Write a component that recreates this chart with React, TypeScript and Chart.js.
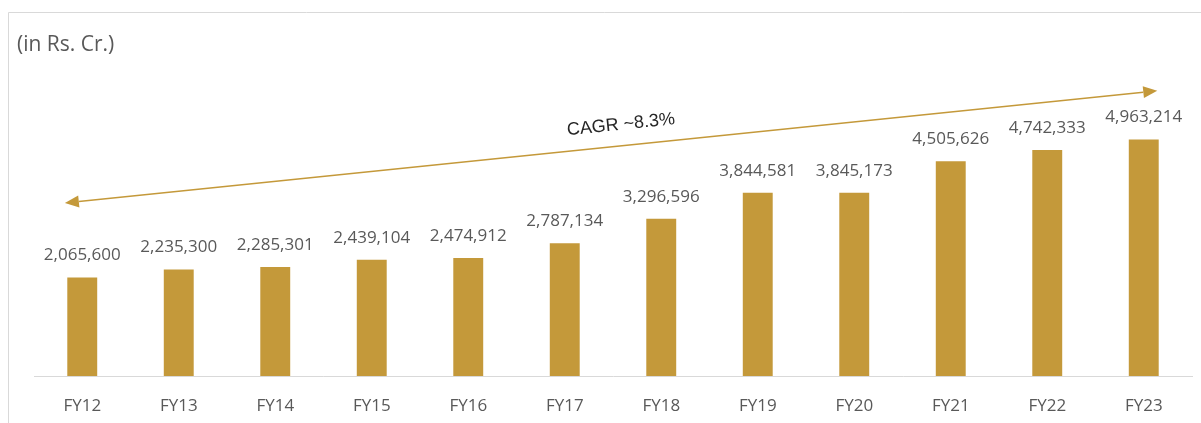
import React, { useEffect, useRef } from "react";
import { Chart, registerables } from "chart.js";

Chart.register(...registerables);

const categories = ["FY12", "FY13", "FY14", "FY15", "FY16", "FY17", "FY18", "FY19", "FY20", "FY21", "FY22", "FY23"];
const values = [2065600, 2235300, 2285301, 2439104, 2474912, 2787134, 3296596, 3844581, 3845173, 4505626, 4742333, 4963214];
const unitLabel = "(in Rs. Cr.)";
const cagrLabel = "CAGR ~8.3%";
// arrow endpoints in data space: [category index, value]
const cagrStart = [-0.18, 3630000];
const cagrEnd = [11.14, 5985000];

const GOLD = "#C4993A";
const TEXT = "#595959";
const LABEL_FONT = '"Open Sans", sans-serif';

const fmt = (v: number) => v.toLocaleString("en-US");

const decorPlugin = {
  id: "decor",
  beforeDraw(chart: any) {
    const ctx = chart.ctx;
    ctx.save();
    ctx.fillStyle = "#ffffff";
    ctx.fillRect(0, 0, chart.width, chart.height);
    ctx.strokeStyle = "#d9d9d9";
    ctx.lineWidth = 1;
    ctx.beginPath();
    ctx.moveTo(8.5, chart.height);
    ctx.lineTo(8.5, 12.5);
    ctx.lineTo(chart.width, 12.5);
    ctx.stroke();
    ctx.fillStyle = TEXT;
    ctx.font = `21px ${LABEL_FONT}`;
    ctx.textBaseline = "middle";
    ctx.textAlign = "left";
    ctx.fillText(unitLabel, 17, 45);
    ctx.restore();
  },
  afterDatasetsDraw(chart: any) {
    const ctx = chart.ctx;
    const xs = chart.scales.x;
    const ys = chart.scales.y;
    const meta = chart.getDatasetMeta(0);
    ctx.save();
    ctx.fillStyle = TEXT;
    ctx.font = `17px ${LABEL_FONT}`;
    ctx.textAlign = "center";
    ctx.textBaseline = "middle";
    meta.data.forEach((bar: any, i: number) => {
      ctx.fillText(fmt(values[i]), bar.x, bar.y - 22);
    });

    // CAGR arrow
    const x1 = xs.getPixelForValue(cagrStart[0]);
    const y1 = ys.getPixelForValue(cagrStart[1]);
    const x2 = xs.getPixelForValue(cagrEnd[0]);
    const y2 = ys.getPixelForValue(cagrEnd[1]);
    const ang = Math.atan2(y2 - y1, x2 - x1);
    const head = 14;
    const hw = 6;
    ctx.strokeStyle = GOLD;
    ctx.fillStyle = GOLD;
    ctx.lineWidth = 1.5;
    ctx.beginPath();
    ctx.moveTo(x1 + Math.cos(ang) * head, y1 + Math.sin(ang) * head);
    ctx.lineTo(x2 - Math.cos(ang) * head, y2 - Math.sin(ang) * head);
    ctx.stroke();
    const drawHead = (tx: number, ty: number, dir: number) => {
      const bx = tx - Math.cos(dir) * head;
      const by = ty - Math.sin(dir) * head;
      ctx.beginPath();
      ctx.moveTo(tx, ty);
      ctx.lineTo(bx - Math.sin(dir) * hw, by + Math.cos(dir) * hw);
      ctx.lineTo(bx + Math.sin(dir) * hw, by - Math.cos(dir) * hw);
      ctx.closePath();
      ctx.fill();
    };
    drawHead(x2, y2, ang);
    drawHead(x1, y1, ang + Math.PI);

    const t = 0.511;
    const mx = x1 + (x2 - x1) * t;
    const my = y1 + (y2 - y1) * t;
    ctx.translate(mx + Math.sin(ang) * 21, my - Math.cos(ang) * 21);
    ctx.rotate(ang);
    ctx.fillStyle = "#262626";
    ctx.font = '18px "Liberation Sans", Arial, sans-serif';
    ctx.textAlign = "center";
    ctx.textBaseline = "middle";
    ctx.fillText(cagrLabel, 0, 0);
    ctx.restore();
  },
};

export default function App() {
  const ref = useRef<HTMLCanvasElement | null>(null);
  useEffect(() => {
    if (!ref.current) return;
    const chart = new Chart(ref.current, {
      type: "bar",
      data: {
        labels: categories,
        datasets: [
          {
            data: values,
            backgroundColor: GOLD,
            barPercentage: 0.62,
            categoryPercentage: 0.5,
          },
        ],
      },
      options: {
        animation: false,
        responsive: false,
        maintainAspectRatio: false,
        layout: { padding: { left: 34, right: 9, top: 90, bottom: 0 } },
        plugins: { legend: { display: false }, tooltip: { enabled: false } },
        scales: {
          x: {
            grid: { display: false, drawTicks: false },
            border: { display: true, color: "#d9d9d9", width: 1 },
            ticks: { color: TEXT, font: { family: LABEL_FONT, size: 17 }, padding: 20 },
            afterFit: (s: any) => {
              s.height = 47;
            },
          },
          y: {
            display: false,
            min: 0,
            max: 6000000,
          },
        },
      },
      plugins: [decorPlugin],
    });
    return () => chart.destroy();
  }, []);
  return (
    <div style={{ position: "absolute", left: 0, top: 0, width: 1201, height: 423 }}>
      <canvas ref={ref} width={1201} height={423} style={{ display: "block" }} />
    </div>
  );
}
